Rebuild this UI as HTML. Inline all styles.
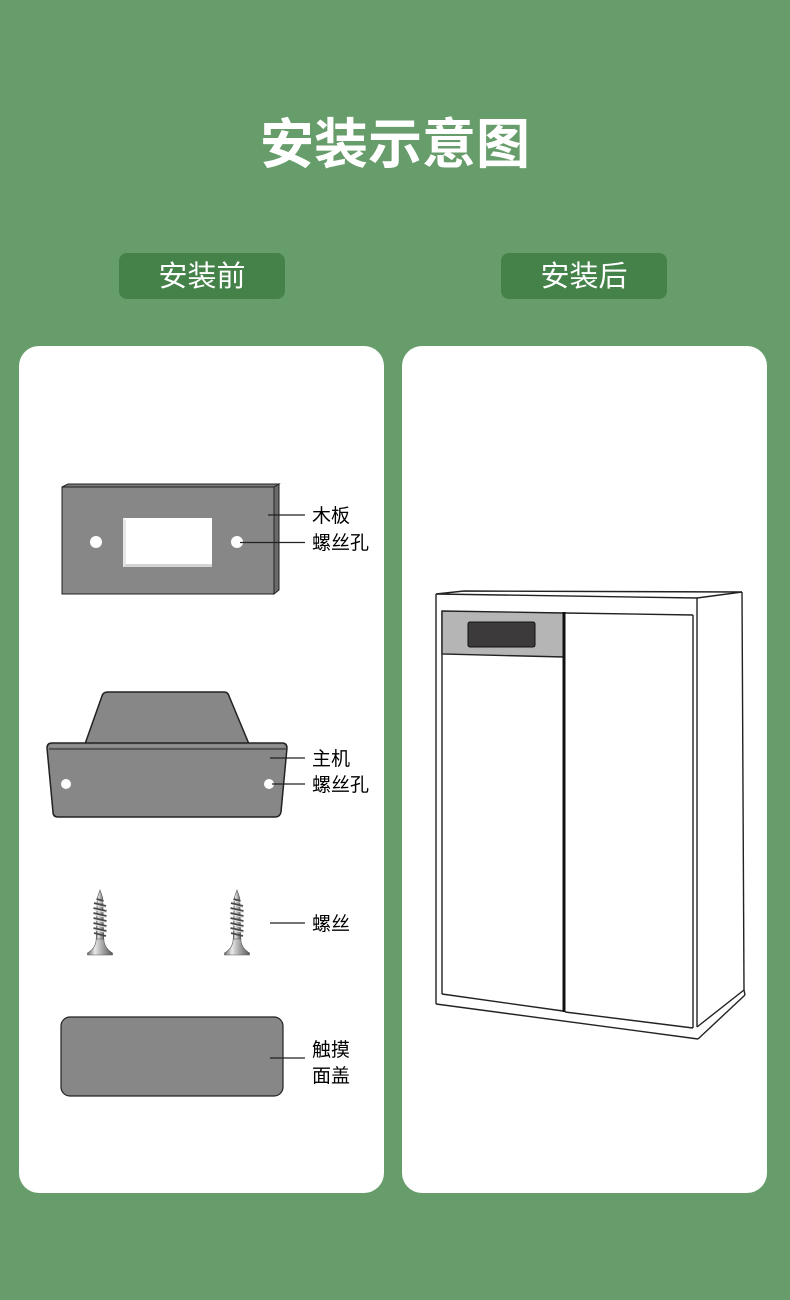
<!DOCTYPE html>
<html>
<head>
<meta charset="utf-8">
<style>
html,body{margin:0;padding:0;}
body{width:790px;height:1300px;background:#679c6b;overflow:hidden;}
svg{display:block;}
text{font-family:"Liberation Sans","Noto Sans CJK SC",sans-serif;}
</style>
</head>
<body>
<svg width="790" height="1300" viewBox="0 0 790 1300" xmlns="http://www.w3.org/2000/svg">
  <defs>
    <linearGradient id="silver" x1="0" y1="0" x2="1" y2="0">
      <stop offset="0" stop-color="#6e6e6e"/>
      <stop offset="0.3" stop-color="#e8e8e8"/>
      <stop offset="0.55" stop-color="#b0b0b0"/>
      <stop offset="1" stop-color="#5a5a5a"/>
    </linearGradient>
    <g id="screw">
      <path d="M0,0 L2.8,8 L3.8,50 L-3.8,50 L-2.8,8 Z" fill="url(#silver)" stroke="#555" stroke-width="0.6"/>
      <g stroke="#4a4a4a" stroke-width="1.8" fill="none">
        <path d="M-3.5,9 L3.5,11"/>
        <path d="M-6,13 L6,16"/>
        <path d="M-6.5,18 L6.5,21"/>
        <path d="M-6.5,23 L6.5,26"/>
        <path d="M-6.5,28 L6.5,31"/>
        <path d="M-6.5,33 L6.5,36"/>
        <path d="M-6.5,38 L6.5,41"/>
        <path d="M-6,43 L6,46"/>
      </g>
      <g stroke="#e0e0e0" stroke-width="0.9" fill="none">
        <path d="M-3.5,10.5 L3.5,12.5"/>
        <path d="M-6,14.5 L6,17.5"/>
        <path d="M-6.5,19.5 L6.5,22.5"/>
        <path d="M-6.5,24.5 L6.5,27.5"/>
        <path d="M-6.5,29.5 L6.5,32.5"/>
        <path d="M-6.5,34.5 L6.5,37.5"/>
        <path d="M-6.5,39.5 L6.5,42.5"/>
      </g>
      <path d="M-3.8,49 Q-4,58 -12.5,63 L-12.5,65 L12.5,65 L12.5,63 Q4,58 3.8,49 Z" fill="url(#silver)" stroke="#555" stroke-width="0.6"/>
    </g>
  </defs>

  <!-- Title -->
  <text x="395" y="163" font-size="54" font-weight="700" fill="#ffffff" text-anchor="middle">安装示意图</text>

  <!-- Buttons -->
  <rect x="119" y="253" width="166" height="46" rx="8" fill="#45824a"/>
  <text x="202" y="286" font-size="29" fill="#ffffff" text-anchor="middle">安装前</text>
  <rect x="501" y="253" width="166" height="46" rx="8" fill="#45824a"/>
  <text x="584" y="286" font-size="29" fill="#ffffff" text-anchor="middle">安装后</text>

  <!-- Panels -->
  <rect x="19" y="346" width="365" height="847" rx="20" fill="#ffffff"/>
  <rect x="402" y="346" width="365" height="847" rx="20" fill="#ffffff"/>

  <!-- Wood board -->
  <polygon points="62,487 68,484 279,484 274,487" fill="#7a7a7a" stroke="#222" stroke-width="1"/>
  <polygon points="274,487 279,484 279,590 274,594" fill="#6a6a6a" stroke="#222" stroke-width="1"/>
  <rect x="62" y="487" width="212" height="107" fill="#878787" stroke="#222" stroke-width="1"/>
  <rect x="123" y="518" width="89" height="49" fill="#ffffff"/>
  <polygon points="123,518 126,521 126,564 212,564 212,567 123,567" fill="#d4d4d4"/>
  <polygon points="123,518 126,521 126,564 123,567" fill="#e6e6e6"/>
  <circle cx="96" cy="542" r="6" fill="#ffffff"/>
  <circle cx="237" cy="542" r="6" fill="#ffffff"/>
  <line x1="268" y1="515" x2="305" y2="515" stroke="#222" stroke-width="1.2"/>
  <line x1="240" y1="542.5" x2="305" y2="542.5" stroke="#222" stroke-width="1.2"/>
  <text x="312" y="522" font-size="19" fill="#000">木板</text>
  <text x="312" y="549" font-size="19" fill="#000">螺丝孔</text>

  <!-- Main unit -->
  <path d="M108,692 L224,692 Q228,692 229,696 L249,744 L85,744 L102,696 Q103,692 108,692 Z" fill="#878787" stroke="#222" stroke-width="1.5"/>
  <path d="M52,743 L282,743 Q287,743 287,748 L281,812 Q280,817 275,817 L58,817 Q53,817 53,812 L47,748 Q47,743 52,743 Z" fill="#878787" stroke="#222" stroke-width="1.5"/>
  <line x1="49" y1="749" x2="286" y2="749" stroke="#3a3a3a" stroke-width="1.2"/>
  <line x1="50" y1="746" x2="284" y2="746" stroke="#9a9a9a" stroke-width="1"/>
  <circle cx="66" cy="784" r="5" fill="#ffffff"/>
  <circle cx="269" cy="784" r="5" fill="#ffffff"/>
  <line x1="270" y1="758" x2="305" y2="758" stroke="#222" stroke-width="1.2"/>
  <line x1="272" y1="784" x2="305" y2="784" stroke="#222" stroke-width="1.2"/>
  <text x="312" y="765" font-size="19" fill="#000">主机</text>
  <text x="312" y="791" font-size="19" fill="#000">螺丝孔</text>

  <!-- Screws -->
  <use href="#screw" x="100" y="890"/>
  <use href="#screw" x="237" y="890"/>
  <line x1="270" y1="923" x2="305" y2="923" stroke="#222" stroke-width="1.2"/>
  <text x="312" y="930" font-size="19" fill="#000">螺丝</text>

  <!-- Touch cover -->
  <rect x="61" y="1017" width="222" height="79" rx="9" fill="#878787" stroke="#222" stroke-width="1.2"/>
  <line x1="270" y1="1058" x2="305" y2="1058" stroke="#222" stroke-width="1.2"/>
  <text x="312" y="1056" font-size="19" fill="#000">触摸</text>
  <text x="312" y="1082" font-size="19" fill="#000">面盖</text>

  <!-- Cabinet -->
  <g fill="none" stroke="#222" stroke-width="1.4" stroke-linejoin="round">
    <polyline points="436,594 464,591 742,592"/>
    <line x1="436" y1="594" x2="697" y2="598"/>
    <line x1="697" y1="598" x2="742" y2="592"/>
    <line x1="436" y1="594" x2="436" y2="1004"/>
    <line x1="436" y1="1004" x2="698" y2="1039"/>
    <line x1="697" y1="598" x2="697" y2="1027"/>
    <line x1="742" y1="592" x2="744" y2="990"/>
    <line x1="744" y1="990" x2="697" y2="1027"/>
    <line x1="745" y1="995" x2="698" y2="1039"/>
    <line x1="744" y1="990" x2="745" y2="995"/>
    <line x1="442" y1="611" x2="442" y2="994"/>
    <line x1="442" y1="994" x2="563" y2="1011"/>
    <line x1="565" y1="613" x2="693" y2="615"/>
    <line x1="693" y1="615" x2="693" y2="1028"/>
    <line x1="565" y1="1012" x2="693" y2="1028"/>
  </g>
  <polygon points="442,611 564,613 564,657 442,654" fill="#b5b5b5" stroke="#222" stroke-width="1.4"/>
  <rect x="468" y="622" width="67" height="25" rx="2" fill="#3c3a3b" stroke="#111" stroke-width="1"/>
  <line x1="564" y1="612" x2="564" y2="1012" stroke="#111" stroke-width="3"/>
</svg>
</body>
</html>
